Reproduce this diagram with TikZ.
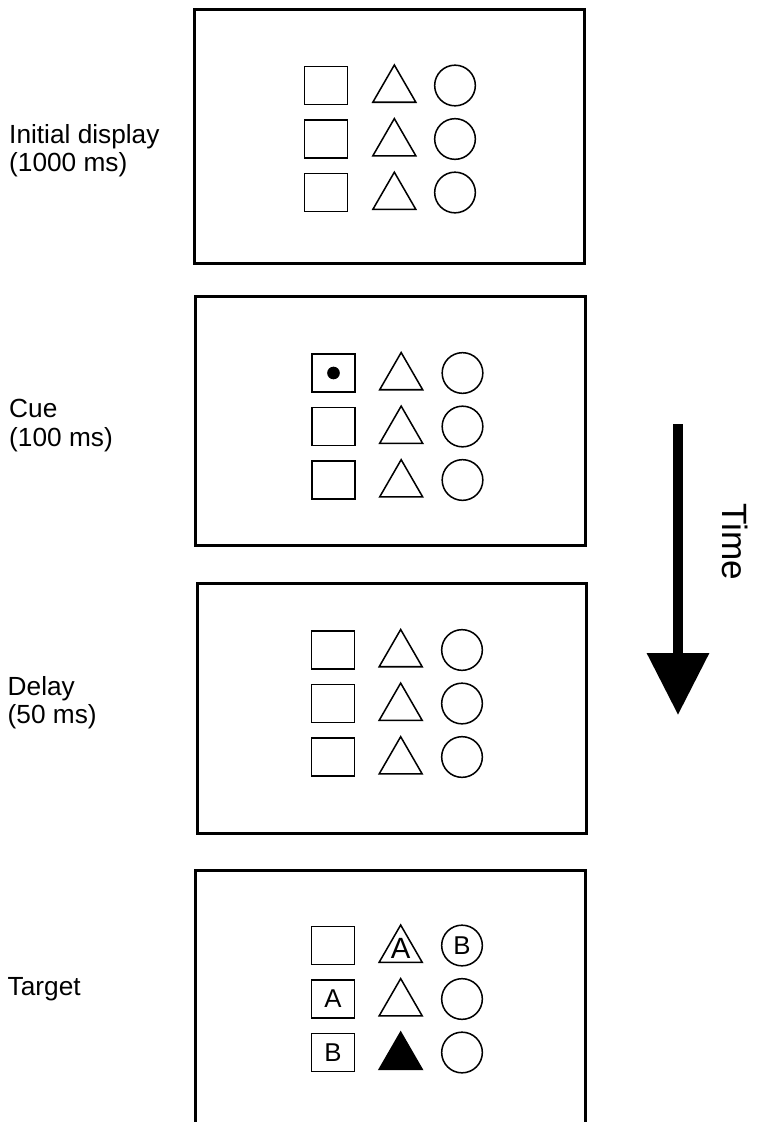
\documentclass[tikz,border=0pt]{standalone}
\usepackage{fontspec}
\setmainfont{Liberation Sans}
\usetikzlibrary{arrows.meta, positioning, shapes.geometric}

\begin{document}
\begin{tikzpicture}[x=0.03cm, y=-0.03cm]
\tikzset{
  screen/.style={
    draw,
    rectangle,
    line width=2.6pt,
    minimum width=11.68cm,
    inner sep=0pt
  },
  sq/.style={
    draw,
    rectangle,
    line width=1.3pt,
    minimum width=1.28cm,
    minimum height=1.13cm,
    inner sep=0pt,
    outer sep=0pt,
    font=\fontsize{22}{22}\selectfont
  },
  tri/.style={
    draw,
    regular polygon,
    regular polygon sides=3,
    line width=1.3pt,
    minimum size=1.49cm,
    inner sep=0pt,
    outer sep=0pt
  },
  circ/.style={
    sq,
    circle,
    minimum size=1.22cm
  },
  lbl/.style={
    anchor=west,
    align=left,
    inner sep=0pt,
    font=\fontsize{22.4}{24.2}\selectfont
  }
}
\useasboundingbox (0,0) rectangle (758,1122);

% Initial display
\node[screen, minimum height=7.62cm] (disp1) at (389.5,136.5) {};
\node[lbl] (lab1) at (9,150.8) {Initial display\\(1000 ms)};
\node[sq] (s11) at (326,85.5) {};
\node[sq, below=0.475cm of s11] (s12) {};
\node[sq, below=0.475cm of s12] (s13) {};
\node[tri] (t11) at ([xshift=2.05cm, yshift=-0.13cm]s11.center) {};
\node[tri, below=0.49cm of t11] (t12) {};
\node[tri, below=0.49cm of t12] (t13) {};
\node[circ, right=2.62cm of s11] (c11) {};
\node[circ, right=2.62cm of s12] (c12) {};
\node[circ, right=2.62cm of s13] (c13) {};

% Cue
\node[screen, minimum height=7.47cm] (disp2) at (390.5,421) {};
\node[lbl] (lab2) at (9,425.7) {Cue\\(100 ms)};
\node[sq] (s21) at (333.5,373) {};
\node[sq, below=0.475cm of s21] (s22) {};
\node[sq, below=0.475cm of s22] (s23) {};
\node[tri] (t21) at ([xshift=2.03cm, yshift=-0.13cm]s21.center) {};
\node[tri, below=0.49cm of t21] (t22) {};
\node[tri, below=0.49cm of t22] (t23) {};
\node[circ, right=2.62cm of s21] (c21) {};
\node[circ, right=2.62cm of s22] (c22) {};
\node[circ, right=2.62cm of s23] (c23) {};
\node[circle, fill=black, minimum size=0.38cm, inner sep=0pt] (cuedot) at (s21.center) {};

% Delay
\node[screen, minimum height=7.5cm] (disp3) at (392,708.5) {};
\node[lbl] (lab3) at (7.5,702.5) {Delay\\(50 ms)};
\node[sq] (s31) at (333,650) {};
\node[sq, below=0.475cm of s31] (s32) {};
\node[sq, below=0.475cm of s32] (s33) {};
\node[tri] (t31) at ([xshift=2.03cm, yshift=-0.13cm]s31.center) {};
\node[tri, below=0.49cm of t31] (t32) {};
\node[tri, below=0.49cm of t32] (t33) {};
\node[circ, right=2.62cm of s31] (c31) {};
\node[circ, right=2.62cm of s32] (c32) {};
\node[circ, right=2.62cm of s33] (c33) {};

% Target
\node[screen, minimum height=7.6cm] (disp4) at (390.5,997.25) {};
\node[lbl, anchor=base west] (lab4) at (7.5,995) {Target};
\node[sq] (s41) at (333,945.5) {};
\node[sq, below=0.475cm of s41] (s42) {A};
\node[sq, below=0.475cm of s42] (s43) {B};
\node[tri] (t41) at ([xshift=2.03cm, yshift=-0.13cm]s41.center) {};
\node[tri, below=0.49cm of t41] (t42) {};
\node[tri, fill=black, below=0.49cm of t42] (t43) {};
\node[inner sep=0pt, font=\fontsize{25}{25}\selectfont] (tA) at ([yshift=0.05cm]t41.center) {A};
\node[circ, right=2.62cm of s41] (c41) {B};
\node[circ, right=2.62cm of s42] (c42) {};
\node[circ, right=2.62cm of s43] (c43) {};

% Time arrow
\coordinate (tstart) at (678,424);
\coordinate (tend) at (678,715);
\draw[line width=0.3cm, -{Triangle[length=1.86cm, width=1.8cm]}] (tstart) -- (tend);
\node[rotate=-90, font=\fontsize{30}{30}\selectfont] (time) at (735,542) {Time};

\end{tikzpicture}
\end{document}
